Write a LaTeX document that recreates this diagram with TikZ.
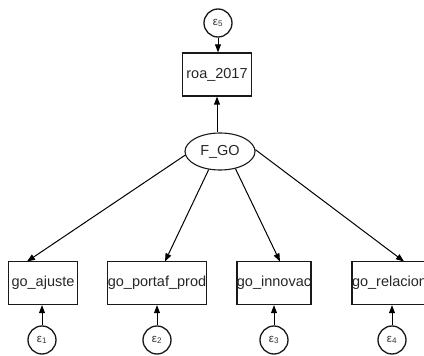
\documentclass[tikz,border=0pt]{standalone}
\usepackage{fontspec}
\setmainfont{Liberation Sans}
\usetikzlibrary{arrows.meta,shapes.geometric}
\begin{document}
\begin{tikzpicture}[x=1pt,y=-1pt,
  obsbox/.style={draw=black!90,line width=1.3pt,minimum width=69pt,minimum height=43pt,inner sep=0pt,font=\fontsize{14.5}{16}\selectfont,text=black!85},
  errc/.style={draw=black!90,line width=1.3pt,circle,minimum size=28pt,inner sep=0pt,font=\fontsize{11.5}{11.5}\selectfont,text=black!80},
  latent/.style={draw=black!90,line width=1.1pt,ellipse,minimum width=70pt,minimum height=37pt,inner sep=0pt,font=\fontsize{14.5}{16}\selectfont,text=black!85},
  path/.style={line width=1pt,-{Triangle[length=8pt,width=6pt]}}]
\useasboundingbox (0,0) rectangle (424,356);
\node[errc] (e5) at (218,23) {ε\textsubscript{5}};
\node[obsbox] (roa) at (217,74.5) {roa\_2017};
\node[latent] (fgo) at (220,151.5) {F\_GO};
\node[obsbox] (b1) at (43,283) {go\_ajuste};
\node[obsbox] (b2) at (157,283) {go\_portaf\_prod};
\node[obsbox] (b3) at (274,283) {go\_innovac};
\node[obsbox] (b4) at (389.5,283) {go\_relacion};
\node[errc] (e1) at (42,340) {ε\textsubscript{1}};
\node[errc] (e2) at (157,340) {ε\textsubscript{2}};
\node[errc] (e3) at (274,340) {ε\textsubscript{3}};
\node[errc] (e4) at (392,340) {ε\textsubscript{4}};
\coordinate (t1) at (27,261.5);
\coordinate (t2) at (165,261.5);
\coordinate (t3) at (280,261.5);
\coordinate (t4) at (404,261.5);
\draw[path] (e5.south) -- (e5.south |- roa.north);
\draw[path] (fgo.north -| roa.south) -- (roa.south);
\draw[path] (fgo.186) -- (t1);
\draw[path] (fgo.238) -- (t2);
\draw[path] (fgo.312) -- (t3);
\draw[path] (fgo.3) -- (t4);
\draw[path] (e1.north) -- (e1.north |- b1.south);
\draw[path] (e2.north) -- (e2.north |- b2.south);
\draw[path] (e3.north) -- (e3.north |- b3.south);
\draw[path] (e4.north) -- (e4.north |- b4.south);
\end{tikzpicture}
\end{document}
